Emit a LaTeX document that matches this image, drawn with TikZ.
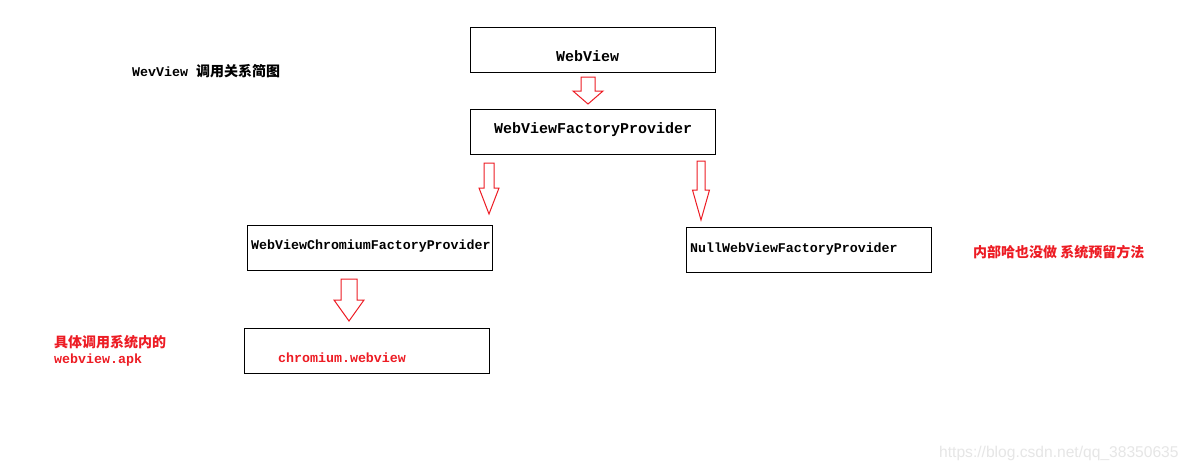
\documentclass[tikz,border=0pt]{standalone}
\usepackage{fontspec}
\setmonofont{Liberation Mono}
\newfontfamily\cjk{Noto Sans CJK SC}
\newfontfamily\wmfont{Liberation Sans}
\definecolor{mred}{HTML}{ED1C24}
\definecolor{wm}{HTML}{E6E6E6}
\tikzset{
  box/.style={draw=black, line width=1pt},
  lbl/.style={inner sep=0pt, anchor=west, font=\ttfamily\bfseries\fontsize{13.3}{14}\selectfont},
  biglbl/.style={lbl, font=\ttfamily\bfseries\fontsize{15}{16}\selectfont},
  redlbl/.style={lbl, text=mred},
  cjklbl/.style={inner sep=0pt, anchor=west, font=\cjk\bfseries\fontsize{14}{15}\selectfont},
  barrow/.style={draw=mred, line width=1pt, fill=white},
}
% block arrow: centre x, top y, head y, tip y, shaft half-width, head half-width
\newcommand\blockarr[6]{%
  \draw[barrow] (#1-#5,#2) -- (#1+#5,#2) -- (#1+#5,#3) -- (#1+#6,#3) -- (#1,#4)
     -- (#1-#6,#3) -- (#1-#5,#3) -- cycle;}
\begin{document}
\begin{tikzpicture}[x=1pt,y=-1pt]
\useasboundingbox[fill=white] (0,0) rectangle (1191,472);
% boxes
\draw[box] (470,27) rectangle (715,72);
\draw[box] (470,109) rectangle (715,154);
\draw[box] (247,225) rectangle (492,270);
\draw[box] (244,328) rectangle (489,373);
\draw[box] (686,227) rectangle (931,272);
% labels
\node[biglbl] (wv) at (556,56) {WebView};
\node[biglbl] (wvfp) at (494,130) {WebViewFactoryProvider};
\node[lbl] (wvcfp) at (251,246) {WebViewChromiumFactoryProvider};
\node[lbl] (nwvfp) at (690,249) {NullWebViewFactoryProvider};
\node[redlbl] (cw) at (278,358) {chromium.webview};
\node[lbl] (title) at (132,71) {WevView {\cjk\bfseries\fontsize{14}{15}\selectfont 调用关系简图}};
\node[cjklbl, text=mred] (note1) at (973,252) {内部哈也没做 系统预留方法};
\node[cjklbl, text=mred] (note2) at (54,342) {具体调用系统内的};
\node[redlbl] (note3) at (54,360) {webview.apk};
\node[inner sep=0pt, anchor=west, text=wm, font=\wmfont\fontsize{15.6}{16}\selectfont] (wmk) at (939,453) {https://blog.csdn.net/qq\_38350635};
% block arrows
\blockarr{588}{77}{91}{104}{7}{15}
\blockarr{489}{163}{188}{214}{5}{10}
\blockarr{701}{161}{190}{220}{4}{8.5}
\blockarr{349}{279}{300}{321}{8}{15}
\end{tikzpicture}
\end{document}
